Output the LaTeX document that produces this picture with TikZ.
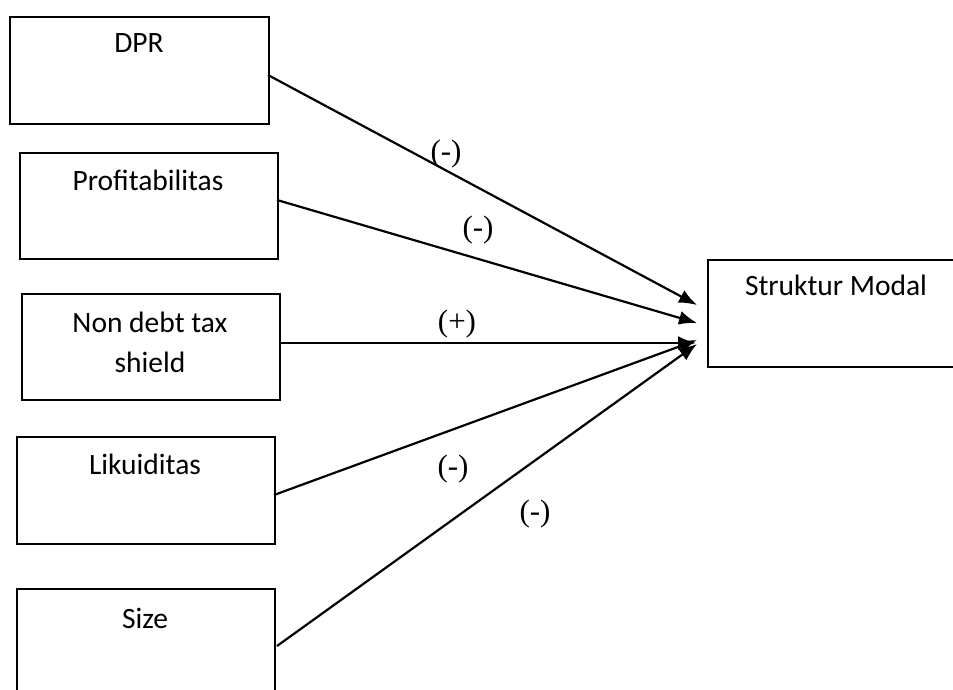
\documentclass[tikz,border=0pt]{standalone}
\usepackage{fontspec}
\setmainfont{Carlito}
\newfontfamily\timesfont{Liberation Serif}
\usetikzlibrary{arrows.meta}
\begin{document}
\begin{tikzpicture}[x=1pt,y=-1pt,
  box/.style={draw, line width=1.8pt, inner sep=0pt, anchor=north west},
  lbl/.style={font=\fontsize{29.5}{34}\selectfont, anchor=base, inner sep=0pt},
  sign/.style={font=\timesfont\fontsize{31}{36}\selectfont, anchor=center, inner sep=0pt},
  conn/.style={line width=2.2pt, -{Latex[length=18pt,width=14pt]}}]
\useasboundingbox (0,0) rectangle (953,690);
% boxes
\node[box, minimum width=259pt, minimum height=107pt] (dpr) at (9,16) {};
\node[box, minimum width=258pt, minimum height=106pt] (prof) at (19,152) {};
\node[box, minimum width=258pt, minimum height=106pt] (ndts) at (21,293) {};
\node[box, minimum width=258pt, minimum height=107pt] (liq) at (16,436) {};
\node[box, minimum width=258pt, minimum height=130pt] (size) at (16,588) {};
\node[box, minimum width=300pt, minimum height=107pt] (sm) at (707,259) {};
% texts
\node[lbl] (tdpr) at (139,53) {DPR};
\node[lbl] (tprof) at (148,190) {Profitabilitas};
\node[lbl] (tndts1) at (150,332) {Non debt tax};
\node[lbl] (tndts2) at (150,372) {shield};
\node[lbl] (tliq) at (145,474) {Likuiditas};
\node[lbl] (tsize) at (145,628) {Size};
\node[lbl] (tsm) at (836,295) {Struktur Modal};
% connector ends
\coordinate (s1) at (268,75);
\coordinate (s2) at (277,200);
\coordinate (s3) at (279,343);
\coordinate (s4) at (274,495);
\coordinate (s5) at (277,646);
\coordinate (e1) at (697,305);
\coordinate (e2) at (697,323);
\coordinate (e3) at (696,343);
\coordinate (e4) at (697,340);
\coordinate (e5) at (697,344);
\draw[conn] (s1) -- (e1);
\draw[conn] (s2) -- (e2);
\draw[conn] (s3) -- (e3);
\draw[conn] (s4) -- (e4);
\draw[conn] (s5) -- (e5);
% signs
\node[sign] (g1) at (446,154) {(-)};
\node[sign] (g2) at (478,230) {(-)};
\node[sign] (g3) at (457,324) {(+)};
\node[sign] (g4) at (453,469) {(-)};
\node[sign] (g5) at (535,514) {(-)};
\end{tikzpicture}
\end{document}
